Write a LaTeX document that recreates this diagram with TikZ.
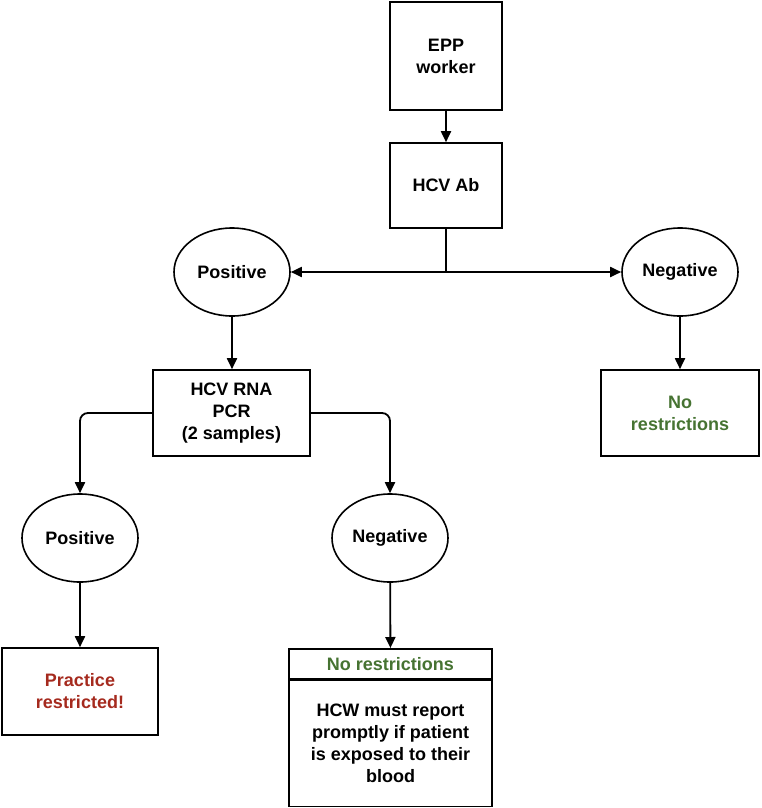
\documentclass[tikz,border=0pt]{standalone}
\usepackage{fontspec}
\setmainfont{Liberation Sans}
\usetikzlibrary{shapes.geometric,arrows.meta}
\definecolor{redt}{RGB}{165,42,30}
\definecolor{greent}{RGB}{70,115,50}
\begin{document}
\begin{tikzpicture}[x=1pt,y=1pt,
  every node/.style={font=\fontsize{18}{22}\selectfont\bfseries, align=center, line width=1.6pt},
  box/.style={draw, rectangle, inner sep=0pt},
  ell/.style={draw, ellipse, inner sep=0pt, minimum width=116pt, minimum height=88pt},
  arr/.style={-{Triangle[length=11pt,width=10pt]}, line width=1.8pt}]
\useasboundingbox (0,0) rectangle (761,-808);
\node[box, minimum width=112pt, minimum height=108pt] (epp) at (446,-56) {EPP\\worker};
\node[box, minimum width=112pt, minimum height=85pt] (ab) at (446,-185.5) {HCV Ab};
\node[ell] (pos1) at (232,-272) {Positive};
\node[ell] (neg1) at (680,-272) {Negative};
\node[box, minimum width=158pt, minimum height=86pt, text=greent] (nr1) at (680,-413) {No\\restrictions};
\node[box, minimum width=157pt, minimum height=86pt] (rna) at (231.5,-413) {HCV RNA\\PCR\\(2 samples)};
\node[ell] (pos2) at (80,-538) {Positive};
\node[ell] (neg2) at (390,-538) {Negative};
\node[box, minimum width=156pt, minimum height=87pt, text=redt] (pr) at (80,-691.5) {Practice\\restricted!};
\node[box, minimum width=203pt, minimum height=30pt, text=greent, anchor=north] (nr2) at (390.5,-648) {No restrictions};
\node[box, minimum width=203pt, minimum height=126pt, anchor=north] (hcw) at (nr2.south) {HCW must report\\promptly if patient\\is exposed to their\\blood};
\coordinate (j) at (446,-272);
\draw[arr] (epp) -- (ab);
\draw[line width=1.8pt] (ab.south) -- (j);
\draw[arr] (j) -- (pos1);
\draw[arr] (j) -- (neg1);
\draw[arr] (pos1) -- (pos1 |- rna.north);
\draw[arr] (neg1) -- (nr1);
\draw[arr, rounded corners=8pt] (rna.west) -| (pos2.north);
\draw[arr, rounded corners=8pt] (rna.east) -| (neg2.north);
\draw[arr] (pos2) -- (pr);
\draw[arr] (neg2) -- (nr2);
\end{tikzpicture}
\end{document}
